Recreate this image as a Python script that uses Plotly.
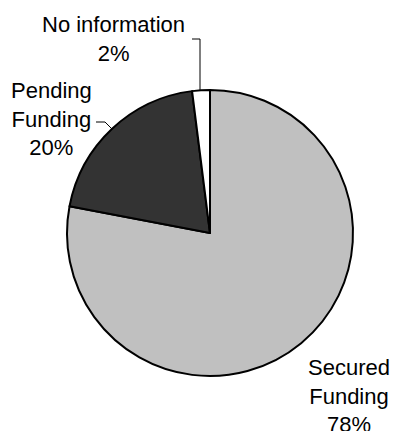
import plotly.graph_objects as go

# Funding status breakdown
categories = ["Secured Funding", "Pending Funding", "No information"]
shares = [78, 20, 2]
slice_colors = ["#C0C0C0", "#333333", "#FFFFFF"]

W, H = 393, 431
cx, cy, r = 210, 233, 143  # pie centre and radius in pixels


def px(x):
    return x / W


def py(y):
    return 1 - y / H


fig = go.Figure(
    go.Pie(
        labels=categories,
        values=shares,
        sort=False,
        direction="clockwise",
        rotation=0,
        textinfo="none",
        hoverinfo="label+percent",
        marker=dict(colors=slice_colors, line=dict(color="#000000", width=2)),
        domain=dict(x=[px(cx - r), px(cx + r)], y=[py(cy + r), py(cy - r)]),
        showlegend=False,
    )
)

font = dict(family="Liberation Sans, Arial, sans-serif", size=22, color="#000000")


def label_text(name, value):
    if name == "No information":
        return f"{name}<br>{value}%"
    return "<br>".join(name.split(" ")) + f"<br>{value}%"


label_pos = {
    "Secured Funding": (349, 396),
    "Pending Funding": (51, 118.5),
    "No information": (113, 39),
}

for name, val in zip(categories, shares):
    x, y = label_pos[name]
    fig.add_annotation(
        x=px(x), y=py(y), xref="paper", yref="paper",
        text=label_text(name, val), showarrow=False,
        xanchor="center", yanchor="middle", align="center", font=font,
    )

# leader lines
line_style = dict(color="#000000", width=1)
fig.add_shape(
    type="path", xref="paper", yref="paper",
    path=f"M {px(192)} {py(39)} L {px(200)} {py(39)} L {px(200)} {py(91)}",
    line=line_style,
)
fig.add_shape(
    type="path", xref="paper", yref="paper",
    path=f"M {px(96)} {py(122)} L {px(105)} {py(122)} L {px(112)} {py(129)}",
    line=line_style,
)

fig.update_layout(
    width=W, height=H,
    margin=dict(l=0, r=0, t=0, b=0),
    paper_bgcolor="#FFFFFF",
    plot_bgcolor="#FFFFFF",
)

fig.write_html("out.html")
